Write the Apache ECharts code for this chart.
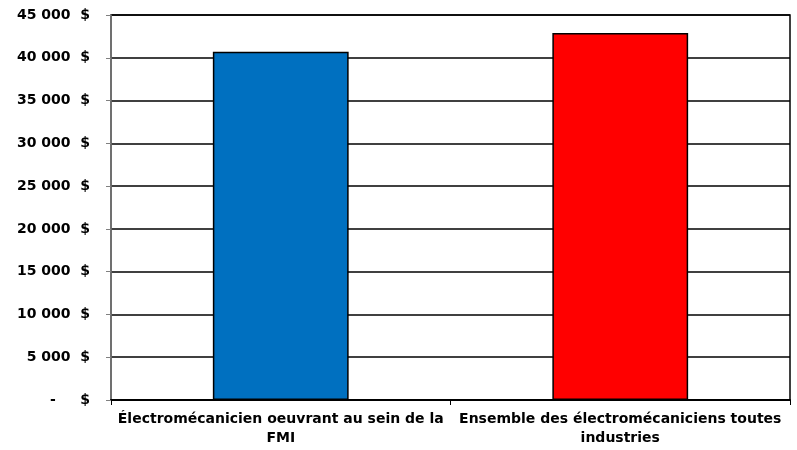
<!DOCTYPE html>
<html><head><meta charset="utf-8">
<script src="https://cdn.jsdelivr.net/npm/echarts@6/dist/echarts.min.js"></script>
<style>html,body{margin:0;padding:0;background:#fff}#c{width:797px;height:450px}</style>
</head><body><div id="c"></div>
<script>
const categories = ["Électromécanicien oeuvrant au sein de la\nFMI", "Ensemble des électromécaniciens toutes\nindustries"];
const values = [40700, 42900];
const barColors = ["#0070C0", "#FF0000"];
const yTicks = { min: 0, max: 45000, interval: 5000 };

const chart = echarts.init(document.getElementById('c'), null, { renderer: 'canvas' });
const font = "'DejaVu Sans', Verdana, sans-serif";
function fmt(v) {
  if (v === 0) return "-     $";
  return String(v).replace(/\B(?=(\d{3})+(?!\d))/g, " ") + "  $";
}
chart.setOption({
  animation: false,
  grid: { left: 111, right: 7, top: 15, bottom: 50, show: true, borderColor: '#000', borderWidth: 1.5 },
  xAxis: {
    type: 'category', data: categories,
    axisLine: { lineStyle: { color: '#000', width: 2 } },
    axisTick: { show: true, length: 5, lineStyle: { color: '#000', width: 1 } },
    axisLabel: { color: '#000', fontFamily: font, fontWeight: 'bold', fontSize: 14, margin: 10, lineHeight: 19, interval: 0 },
    splitLine: { show: false }
  },
  yAxis: {
    type: 'value', min: yTicks.min, max: yTicks.max, interval: yTicks.interval,
    axisLine: { show: true, lineStyle: { color: '#808080', width: 1.5 } },
    axisTick: { show: true, inside: false, length: 5, lineStyle: { color: '#808080' } },
    axisLabel: { color: '#000', fontFamily: font, fontWeight: 'bold', fontSize: 14, margin: 21, formatter: fmt },
    splitLine: { show: true, lineStyle: { color: '#000', width: 1.5 } }
  },
  series: [{
    type: 'bar', barWidth: '40%',
    data: values.map((v, i) => ({ value: v, itemStyle: { color: barColors[i] } })),
    itemStyle: { borderColor: '#000', borderWidth: 1.5 }
  }]
});
</script></body></html>
